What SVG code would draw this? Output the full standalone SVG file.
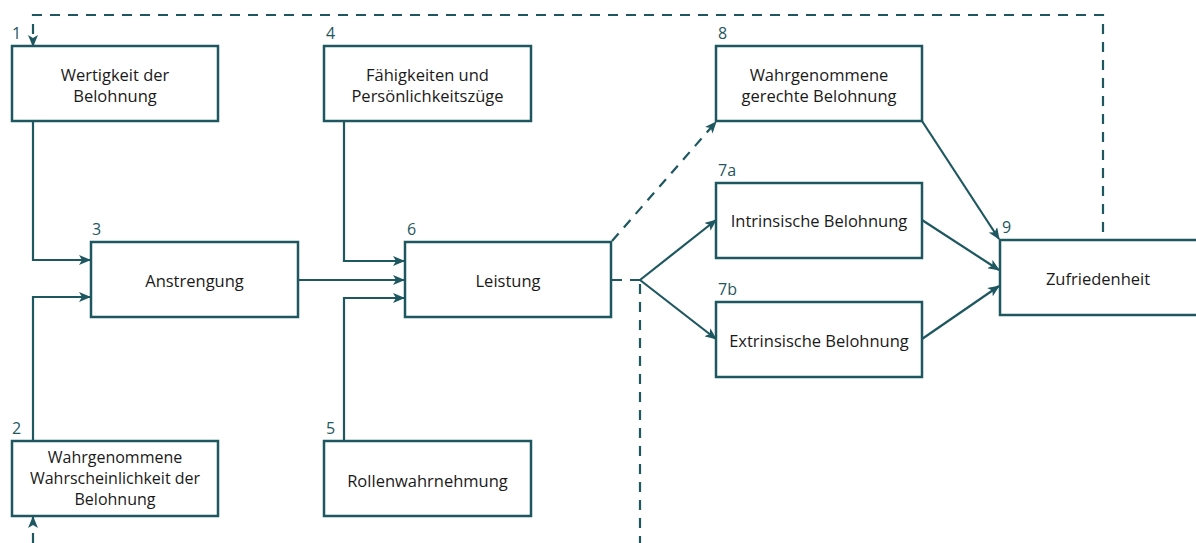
<svg xmlns="http://www.w3.org/2000/svg" width="1196" height="543" viewBox="0 0 1196 543">
  <style>
    .box { fill: #ffffff; stroke: #1e5760; stroke-width: 2.5; }
    .lbl { font-family: "Open Sans", "Noto Sans", sans-serif; font-size: 16.5px; fill: #1a1a1a; text-anchor: middle; }
    .tight { font-size: 16px; }
    .num { font-family: "Open Sans", "Noto Sans", sans-serif; font-size: 16px; fill: #1e5760; }
    .ln { fill: none; stroke: #1e5760; stroke-width: 2.2; }
    .dash { stroke-dasharray: 10 8; }
  </style>
  <defs>
    <marker id="arr" viewBox="0 0 12 10" refX="11" refY="5" markerWidth="12" markerHeight="10" markerUnits="userSpaceOnUse" orient="auto">
      <path d="M0,0 L12,5 L0,10 L3,5 Z" fill="#1e5760"/>
    </marker>
  </defs>

  <!-- connectors -->
  <g id="connectors">
    <polyline class="ln" points="33,121 33,260 90,260" marker-end="url(#arr)"/>
    <polyline class="ln" points="33,441 33,297 90,297" marker-end="url(#arr)"/>
    <line class="ln" x1="298" y1="280" x2="404" y2="280" marker-end="url(#arr)"/>
    <polyline class="ln" points="344,121 344,261 404,261" marker-end="url(#arr)"/>
    <polyline class="ln" points="344,441 344,298 404,298" marker-end="url(#arr)"/>
    <line class="ln dash" x1="612" y1="241" x2="716" y2="122" marker-end="url(#arr)"/>
    <line class="ln dash" x1="612" y1="280" x2="640" y2="280"/>
    <line class="ln dash" x1="640" y1="284" x2="640" y2="543"/>
    <line class="ln" x1="640" y1="280" x2="716" y2="220" marker-end="url(#arr)"/>
    <line class="ln" x1="640" y1="280" x2="716" y2="339" marker-end="url(#arr)"/>
    <line class="ln" x1="922" y1="121" x2="999" y2="239" marker-end="url(#arr)"/>
    <line class="ln" x1="922" y1="220" x2="999" y2="270" marker-end="url(#arr)"/>
    <line class="ln" x1="922" y1="339" x2="999" y2="286" marker-end="url(#arr)"/>
    <polyline class="ln dash" points="1103,232 1103,15 33,15 33,46" marker-end="url(#arr)"/>
    <line class="ln dash" x1="33" y1="543" x2="33" y2="517" marker-end="url(#arr)"/>
  </g>

  <g id="n1">
    <rect class="box" x="12" y="46" width="206" height="75"/>
    <text class="num" x="12" y="39">1</text>
    <text class="lbl" x="115" y="81">Wertigkeit der</text>
    <text class="lbl" x="115" y="102">Belohnung</text>
  </g>
  <g id="n2">
    <rect class="box" x="12" y="441" width="206" height="75"/>
    <text class="num" x="12" y="434">2</text>
    <text class="lbl tight" x="115" y="463">Wahrgenommene</text>
    <text class="lbl tight" x="115" y="484">Wahrscheinlichkeit der</text>
    <text class="lbl tight" x="115" y="505">Belohnung</text>
  </g>
  <g id="n3">
    <rect class="box" x="91" y="242" width="207" height="75"/>
    <text class="num" x="92" y="235">3</text>
    <text class="lbl" x="194.5" y="287">Anstrengung</text>
  </g>
  <g id="n4">
    <rect class="box" x="324" y="46" width="207" height="75"/>
    <text class="num" x="326" y="39">4</text>
    <text class="lbl" x="427.5" y="81">Fähigkeiten und</text>
    <text class="lbl" x="427.5" y="102">Persönlichkeitszüge</text>
  </g>
  <g id="n5">
    <rect class="box" x="324" y="441" width="207" height="75"/>
    <text class="num" x="326" y="434">5</text>
    <text class="lbl" x="427.5" y="487">Rollenwahrnehmung</text>
  </g>
  <g id="n6">
    <rect class="box" x="405" y="242" width="206" height="75"/>
    <text class="num" x="407" y="235">6</text>
    <text class="lbl" x="508" y="287">Leistung</text>
  </g>
  <g id="n8">
    <rect class="box" x="716" y="46" width="206" height="75"/>
    <text class="num" x="718" y="39">8</text>
    <text class="lbl" x="819" y="81">Wahrgenommene</text>
    <text class="lbl" x="819" y="102">gerechte Belohnung</text>
  </g>
  <g id="n7a">
    <rect class="box" x="716" y="183" width="206" height="75"/>
    <text class="num" x="718" y="176">7a</text>
    <text class="lbl" x="819" y="227">Intrinsische Belohnung</text>
  </g>
  <g id="n7b">
    <rect class="box" x="716" y="302" width="206" height="75"/>
    <text class="num" x="718" y="295">7b</text>
    <text class="lbl" x="819" y="347">Extrinsische Belohnung</text>
  </g>
  <g id="n9">
    <rect class="box" x="1000" y="240" width="206" height="75"/>
    <text class="num" x="1002" y="233">9</text>
    <text class="lbl" x="1098" y="285">Zufriedenheit</text>
  </g>
</svg>
